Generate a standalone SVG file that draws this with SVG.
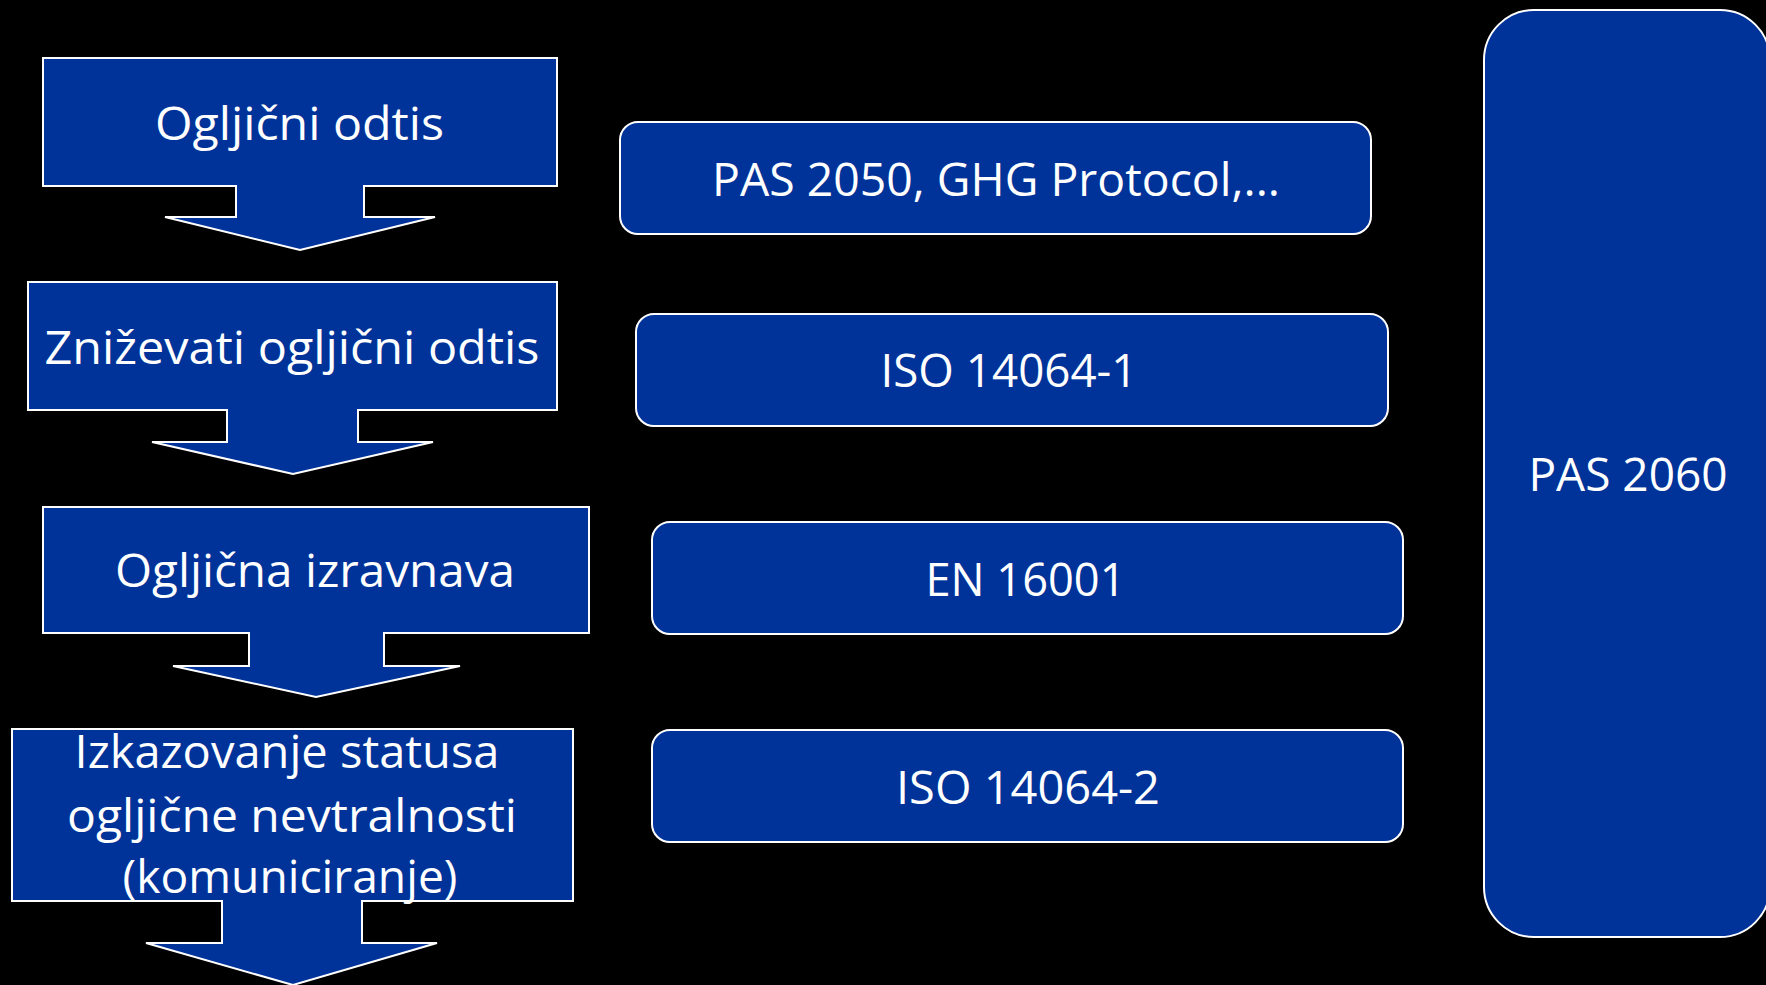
<svg xmlns="http://www.w3.org/2000/svg" width="1766" height="985" viewBox="0 0 1766 985">
<style>
.arrow{fill:#003399;stroke:#ffffff;stroke-width:2;stroke-linejoin:miter}
.std{fill:#003399;stroke:#ffffff;stroke-width:2}
.t{fill:#ffffff;font-family:"Open Sans","Noto Sans","Liberation Sans",sans-serif;font-size:46px;text-anchor:middle}
</style>
<rect x="0" y="0" width="1766" height="985" fill="#000000"/>
<g id="connectors"></g>
<g id="step1">
<polygon class="arrow" points="43,58 557,58 557,186 364,186 364,217 435,217 300,250 165,217 236,217 236,186 43,186"/>
<text class="t" x="299.5" y="140" textLength="289" lengthAdjust="spacingAndGlyphs">Ogljični odtis</text>
</g>
<g id="step2">
<polygon class="arrow" points="28,282 557,282 557,410 358,410 358,442 433,442 293,474 152,442 227,442 227,410 28,410"/>
<text class="t" x="292" y="364" textLength="495" lengthAdjust="spacingAndGlyphs">Zniževati ogljični odtis</text>
</g>
<g id="step3">
<polygon class="arrow" points="43,507 589,507 589,633 384,633 384,666 460,666 316,697 173,666 249,666 249,633 43,633"/>
<text class="t" x="315" y="587" textLength="400" lengthAdjust="spacingAndGlyphs">Ogljična izravnava</text>
</g>
<g id="step4">
<polygon class="arrow" points="12,729 573,729 573,901 362,901 362,943 437,943 293,985 146,943 222,943 222,901 12,901"/>
<text class="t" x="287" y="768" textLength="425" lengthAdjust="spacingAndGlyphs">Izkazovanje statusa</text>
<text class="t" x="292" y="832" textLength="450" lengthAdjust="spacingAndGlyphs">ogljične nevtralnosti</text>
<text class="t" x="290" y="893" textLength="335" lengthAdjust="spacingAndGlyphs">(komuniciranje)</text>
</g>
<g id="pas2050">
<rect class="std" x="620" y="122" width="751" height="112" rx="18" ry="18"/>
<text class="t" x="996" y="196" textLength="568" lengthAdjust="spacingAndGlyphs">PAS 2050, GHG Protocol,...</text>
</g>
<g id="iso14064-1">
<rect class="std" x="636" y="314" width="752" height="112" rx="18" ry="18"/>
<text class="t" x="1009" y="387" textLength="257" lengthAdjust="spacingAndGlyphs">ISO 14064-1</text>
</g>
<g id="en16001">
<rect class="std" x="652" y="522" width="751" height="112" rx="18" ry="18"/>
<text class="t" x="1025.5" y="596" textLength="200" lengthAdjust="spacingAndGlyphs">EN 16001</text>
</g>
<g id="iso14064-2">
<rect class="std" x="652" y="730" width="751" height="112" rx="18" ry="18"/>
<text class="t" x="1028" y="804" textLength="264" lengthAdjust="spacingAndGlyphs">ISO 14064-2</text>
</g>
<g id="pas2060">
<rect class="std" x="1484" y="10" width="286" height="927" rx="50" ry="50" stroke-width="1.5"/>
<text class="t" x="1628" y="491">PAS 2060</text>
</g>
</svg>
